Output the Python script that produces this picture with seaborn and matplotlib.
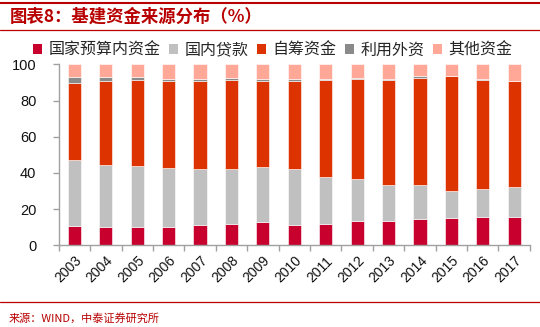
import matplotlib
matplotlib.use("Agg")
import matplotlib.pyplot as plt
import seaborn as sns
import numpy as np
import pandas as pd
from matplotlib.patches import Patch
from matplotlib.lines import Line2D

years = [str(y) for y in range(2003, 2018)]
national_budget = [10.7, 10.0, 10.0, 10.0, 11.3, 12.0, 12.8, 11.5, 12.0, 13.3, 13.3, 14.6, 15.3, 15.9, 15.9]
domestic_loans = [36.4, 34.5, 33.8, 32.5, 30.7, 30.0, 30.5, 30.5, 25.9, 23.5, 20.0, 18.7, 14.6, 15.3, 16.1]
self_raised = [42.5, 46.3, 47.5, 48.3, 48.8, 49.3, 47.5, 48.8, 53.4, 55.4, 58.0, 59.5, 63.6, 60.1, 58.8]
foreign = [3.7, 2.5, 2.0, 1.4, 1.4, 1.5, 1.4, 0.9, 0.9, 0.3, 0.9, 0.7, 0.4, 0.9, 0.2]
other = [6.7, 6.7, 6.7, 7.8, 7.8, 7.2, 7.8, 8.3, 7.8, 7.5, 7.8, 6.5, 6.1, 7.8, 9.0]

series_names = ["国家预算内资金", "国内贷款", "自筹资金", "利用外资", "其他资金"]
series_vals = [national_budget, domestic_loans, self_raised, foreign, other]
colors = ["#C8002E", "#C0C0C0", "#DD3300", "#8A8A8A", "#FFA898"]
y_ticks = [0, 20, 40, 60, 80, 100]

sns.set_style("white")
plt.rcParams["font.family"] = ["Liberation Sans", "Noto Sans CJK SC", "DejaVu Sans"]

fig = plt.figure(figsize=(5.4, 3.27), dpi=100)
ax = fig.add_axes([0.1087, 0.2498, 0.8726, 0.553])

bottom = np.zeros(len(years))
for name, vals, col in zip(series_names, series_vals, colors):
    df = pd.DataFrame({"year": years, "val": vals})
    sns.barplot(data=df, x="year", y="val", bottom=bottom.copy(), color=col,
                width=0.42, ax=ax, edgecolor="white", linewidth=0.4,
                saturation=1, errorbar=None)
    bottom = bottom + np.array(vals)

ax.set_xlim(-0.5, len(years) - 0.5)
ax.set_ylim(0, 100)
ax.set_yticks(y_ticks)
ax.set_xlabel("")
ax.set_ylabel("")
for s in ["top", "right"]:
    ax.spines[s].set_visible(False)
for s in ["left", "bottom"]:
    ax.spines[s].set_color("#A0A0A0")
    ax.spines[s].set_linewidth(1.0)

ax.tick_params(axis="y", direction="out", length=4, width=1, color="#A0A0A0",
               pad=12, labelsize=10.5, labelcolor="#111111", left=True)
ax.set_xticks(range(len(years)))
ax.set_xticklabels(years, rotation=45, ha="right", rotation_mode="anchor",
                   fontsize=10, color="#111111")
ax.tick_params(axis="x", which="major", length=0, pad=6)
ax.set_xticks(np.arange(-0.5, len(years), 1.0), minor=True)
ax.tick_params(axis="x", which="minor", direction="out", length=4, width=1,
               color="#A0A0A0", bottom=True)

handles = [Patch(facecolor=c, edgecolor="none") for c in colors]
fig.legend(handles, series_names, loc="center", bbox_to_anchor=(0.505, 0.847),
           ncol=5, frameon=False, handlelength=0.55,
           handleheight=0.55, handletextpad=0.4, columnspacing=0.55,
           prop={"family": ["Noto Sans CJK SC"], "size": 11.5})

red = "#B80000"
fig.add_artist(Line2D([0, 1], [1 - 2.5 / 327, 1 - 2.5 / 327], color=red, lw=1.5,
                      transform=fig.transFigure))
fig.add_artist(Line2D([0, 1], [1 - 29.5 / 327, 1 - 29.5 / 327], color=red, lw=0.9,
                      transform=fig.transFigure))
fig.add_artist(Line2D([0, 1], [1 - 302 / 327, 1 - 302 / 327], color=red, lw=0.9,
                      transform=fig.transFigure))
fig.text(10 / 540, 1 - 16.5 / 327, "图表8：基建资金来源分布（%）", color=red,
         fontsize=12.5, fontweight="bold", fontstyle="italic", va="center", ha="left",
         family=["Noto Sans CJK SC"])
fig.text(9 / 540, 1 - 318 / 327, "来源：WIND，中泰证券研究所", color=red,
         fontsize=8, va="center", ha="left", family=["Noto Sans CJK SC"])

fig.savefig("out.png", dpi=100)
